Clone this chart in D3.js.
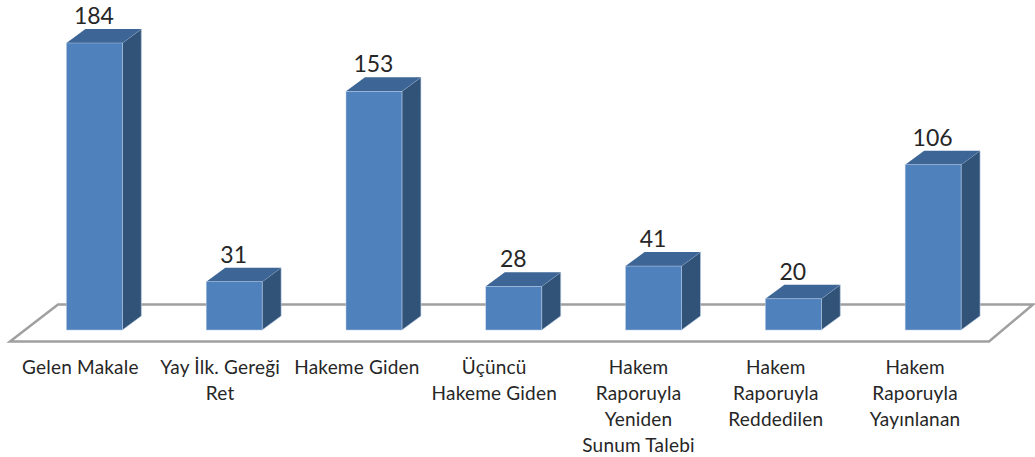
<!DOCTYPE html>
<html>
<head>
<meta charset="utf-8">
<script src="https://cdn.jsdelivr.net/npm/d3@7"></script>
<style>
    html, body { margin: 0; padding: 0; background: #fff; }
    text { font-family: Lato, "Open Sans", sans-serif; fill: #262626; }
</style>
</head>
<body>
<div id="graph"></div>
<script>
var categories = ["Gelen Makale", "Yay İlk. Gereği Ret", "Hakeme Giden", "Üçüncü Hakeme Giden",
    "Hakem Raporuyla Yeniden Sunum Talebi", "Hakem Raporuyla Reddedilen", "Hakem Raporuyla Yayınlanan"];
var values = [184, 31, 153, 28, 41, 20, 106];
var tickLines = [
    ["Gelen Makale"],
    ["Yay İlk. Gereği", "Ret"],
    ["Hakeme Giden"],
    ["Üçüncü", "Hakeme Giden"],
    ["Hakem", "Raporuyla", "Yeniden", "Sunum Talebi"],
    ["Hakem", "Raporuyla", "Reddedilen"],
    ["Hakem", "Raporuyla", "Yayınlanan"]
];

var width = 1035;
var height = 457;
var baseY = 330;
var depthX = 19;
var depthY = 14;
// labels do not sit at a fixed distance from their bars
var labelShift = [-14, -14, -17, -19.5, -15, -17.5, -18];

var x = d3.scaleBand().domain(categories).range([24.5, 1003]).paddingInner(0.6).paddingOuter(0.3);
var y = d3.scaleLinear().domain([0, 184]).range([baseY, 43]);

var graph = d3.select("#graph").append("svg")
    .attr("width", width)
    .attr("height", height)
    .style("display", "block");

// floor
graph.append("path")
    .attr("d", "M10,341.5 L989,341.5 L1033,304.5 L58,304.5 Z")
    .attr("fill", "#fff")
    .attr("stroke", "#a0a0a0")
    .attr("stroke-width", 2.5)
    .attr("stroke-linejoin", "miter");

var bars = graph.selectAll(".bar")
    .data(categories)
    .enter().append("g")
    .attr("class", "bar");

function val(i) {
    return values[i];
}

// side
bars.append("path")
    .attr("fill", "#325378")
    .attr("stroke", "#b9cce4")
    .attr("stroke-width", 0.6)
    .attr("d", function (d, i) {
        var r = x(d) + x.bandwidth();
        return "M" + r + "," + y(val(i)) + " L" + (r + depthX) + "," + (y(val(i)) - depthY) +
            " L" + (r + depthX) + "," + (baseY - depthY) + " L" + r + "," + baseY + " Z";
    });

// top
bars.append("path")
    .attr("fill", "#3d6595")
    .attr("d", function (d, i) {
        var l = x(d);
        var r = l + x.bandwidth();
        var t = y(val(i));
        return "M" + l + "," + t + " L" + (l + depthX) + "," + (t - depthY) +
            " L" + (r + depthX) + "," + (t - depthY) + " L" + r + "," + t + " Z";
    });

// front
bars.append("rect")
    .attr("x", function (d) { return x(d); })
    .attr("y", function (d, i) { return y(val(i)); })
    .attr("width", x.bandwidth())
    .attr("height", function (d, i) { return baseY - y(val(i)); })
    .attr("fill", "#4f81bd")
    .attr("stroke", "#b9cce4")
    .attr("stroke-width", 0.5);

// value labels
bars.append("text")
    .attr("x", function (d) { return x(d) + x.bandwidth() / 2 - 0.5; })
    .attr("y", function (d, i) { return y(val(i)) - 19; })
    .attr("text-anchor", "middle")
    .style("font-size", "23px")
    .text(function (d, i) { return val(i); });

// category labels
var labels = bars.append("text")
    .attr("text-anchor", "middle")
    .style("font-size", "19px")
    .style("letter-spacing", "0.2px");

labels.selectAll("tspan")
    .data(function (d, i) {
        return tickLines[i].map(function (t) { return {line: t, cat: d, shift: labelShift[i]}; });
    })
    .enter().append("tspan")
    .attr("x", function (d) { return x(d.cat) + x.bandwidth() / 2 + d.shift; })
    .attr("y", function (d, i) { return 374 + i * 26; })
    .text(function (d) { return d.line; });
</script>
</body>
</html>
